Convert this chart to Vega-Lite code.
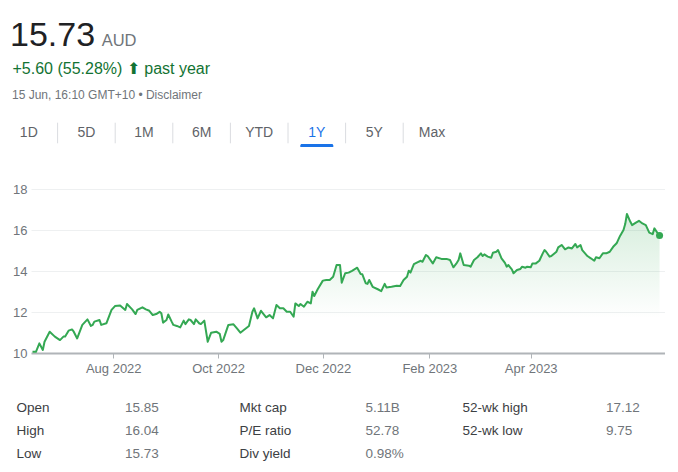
{
  "$schema": "https://vega.github.io/schema/vega-lite/v6.json",
  "background": "white",
  "padding": {"left": 10, "top": 0, "right": 0, "bottom": 0},
  "bounds": "flush",
  "spacing": 41,
  "config": {"view": {"stroke": null}, "font": "Liberation Sans"},
  "vconcat": [
    {
      "width": 634,
      "height": 77,
      "data": {"values": [
        {"part": "price", "text": "15.73"},
        {"part": "currency", "text": "AUD"},
        {"part": "change", "text": "+5.60 (55.28%) ⬆ past year"},
        {"part": "time", "text": "15 Jun, 16:10 GMT+10 • Disclaimer"}
      ]},
      "layer": [
        {"transform": [{"filter": "datum.part === 'price'"}],
         "mark": {"type": "text", "align": "left", "baseline": "alphabetic", "fontSize": 34, "color": "#202124"},
         "encoding": {"text": {"field": "text"}, "x": {"value": -21}, "y": {"value": 46}}},
        {"transform": [{"filter": "datum.part === 'currency'"}],
         "mark": {"type": "text", "align": "left", "baseline": "alphabetic", "fontSize": 16.5, "color": "#70757a"},
         "encoding": {"text": {"field": "text"}, "x": {"value": 70.7}, "y": {"value": 46}}},
        {"transform": [{"filter": "datum.part === 'change'"}],
         "mark": {"type": "text", "align": "left", "baseline": "alphabetic", "fontSize": 16, "color": "#137333"},
         "encoding": {"text": {"field": "text"}, "x": {"value": -18.5}, "y": {"value": 73.5}}},
        {"transform": [{"filter": "datum.part === 'time'"}],
         "mark": {"type": "text", "align": "left", "baseline": "alphabetic", "fontSize": 12, "color": "#70757a"},
         "encoding": {"text": {"field": "text"}, "x": {"value": -19}, "y": {"value": 99}}}
      ]
    },
    {
      "width": 634,
      "height": 30,
      "data": {"values": [
        {"tab": "1D", "active": false},
        {"tab": "5D", "active": false},
        {"tab": "1M", "active": false},
        {"tab": "6M", "active": false},
        {"tab": "YTD", "active": false},
        {"tab": "1Y", "active": true},
        {"tab": "5Y", "active": false},
        {"tab": "Max", "active": false}
      ]},
      "encoding": {
        "x": {"field": "tab", "type": "nominal", "sort": null,
              "scale": {"domain": ["1D", "5D", "1M", "6M", "YTD", "1Y", "5Y", "Max"], "range": [-31, 429.8], "paddingInner": 0, "paddingOuter": 0},
              "axis": null}
      },
      "layer": [
        {"mark": {"type": "text", "baseline": "middle", "fontSize": 14},
         "encoding": {"text": {"field": "tab"},
                      "color": {"condition": {"test": "datum.active", "value": "#1a73e8"}, "value": "#5f6368"}}},
        {"transform": [{"filter": "datum.tab !== '1D'"}],
         "mark": {"type": "rule", "color": "#dadce0", "strokeWidth": 1},
         "encoding": {"x": {"field": "tab", "type": "nominal", "bandPosition": 0}, "y": {"value": 4.7}, "y2": {"value": 25.3}}},
        {"transform": [{"filter": "datum.active"}],
         "mark": {"type": "bar", "width": {"band": 0.573}, "color": "#1a73e8", "cornerRadiusTopLeft": 2, "cornerRadiusTopRight": 2},
         "encoding": {"y": {"value": 26}, "y2": {"value": 29}}}
      ]
    },
    {
      "width": 634,
      "height": 164,
      "data": {"values": [
        {"date": "2022-06-15", "price": 10.06},
        {"date": "2022-06-17", "price": 10.06},
        {"date": "2022-06-19", "price": 10.47},
        {"date": "2022-06-21", "price": 10.15},
        {"date": "2022-06-22", "price": 10.55},
        {"date": "2022-06-25", "price": 11.04},
        {"date": "2022-06-28", "price": 10.80},
        {"date": "2022-07-01", "price": 10.63},
        {"date": "2022-07-03", "price": 10.80},
        {"date": "2022-07-04", "price": 10.80},
        {"date": "2022-07-06", "price": 11.09},
        {"date": "2022-07-08", "price": 11.15},
        {"date": "2022-07-09", "price": 11.04},
        {"date": "2022-07-11", "price": 10.71},
        {"date": "2022-07-14", "price": 11.37},
        {"date": "2022-07-17", "price": 11.64},
        {"date": "2022-07-19", "price": 11.32},
        {"date": "2022-07-20", "price": 11.37},
        {"date": "2022-07-21", "price": 11.53},
        {"date": "2022-07-24", "price": 11.61},
        {"date": "2022-07-25", "price": 11.37},
        {"date": "2022-07-28", "price": 11.45},
        {"date": "2022-07-31", "price": 12.10},
        {"date": "2022-08-02", "price": 12.29},
        {"date": "2022-08-05", "price": 12.32},
        {"date": "2022-08-08", "price": 12.10},
        {"date": "2022-08-09", "price": 12.39},
        {"date": "2022-08-12", "price": 12.13},
        {"date": "2022-08-14", "price": 11.90},
        {"date": "2022-08-15", "price": 12.10},
        {"date": "2022-08-18", "price": 12.23},
        {"date": "2022-08-20", "price": 12.13},
        {"date": "2022-08-22", "price": 12.06},
        {"date": "2022-08-24", "price": 11.85},
        {"date": "2022-08-26", "price": 11.90},
        {"date": "2022-08-28", "price": 12.01},
        {"date": "2022-08-29", "price": 11.94},
        {"date": "2022-08-30", "price": 11.48},
        {"date": "2022-09-01", "price": 11.61},
        {"date": "2022-09-02", "price": 11.88},
        {"date": "2022-09-04", "price": 11.53},
        {"date": "2022-09-05", "price": 11.37},
        {"date": "2022-09-07", "price": 11.32},
        {"date": "2022-09-09", "price": 11.25},
        {"date": "2022-09-11", "price": 11.58},
        {"date": "2022-09-12", "price": 11.41},
        {"date": "2022-09-14", "price": 11.64},
        {"date": "2022-09-15", "price": 11.61},
        {"date": "2022-09-17", "price": 11.41},
        {"date": "2022-09-18", "price": 11.64},
        {"date": "2022-09-20", "price": 11.45},
        {"date": "2022-09-21", "price": 11.41},
        {"date": "2022-09-23", "price": 11.58},
        {"date": "2022-09-25", "price": 10.55},
        {"date": "2022-09-27", "price": 10.99},
        {"date": "2022-09-30", "price": 11.04},
        {"date": "2022-10-02", "price": 10.93},
        {"date": "2022-10-03", "price": 10.55},
        {"date": "2022-10-04", "price": 10.63},
        {"date": "2022-10-07", "price": 11.37},
        {"date": "2022-10-10", "price": 11.40},
        {"date": "2022-10-12", "price": 11.20},
        {"date": "2022-10-14", "price": 10.99},
        {"date": "2022-10-16", "price": 11.12},
        {"date": "2022-10-19", "price": 11.32},
        {"date": "2022-10-21", "price": 12.01},
        {"date": "2022-10-22", "price": 12.18},
        {"date": "2022-10-24", "price": 11.69},
        {"date": "2022-10-26", "price": 12.06},
        {"date": "2022-10-29", "price": 11.74},
        {"date": "2022-10-31", "price": 11.85},
        {"date": "2022-11-02", "price": 11.69},
        {"date": "2022-11-04", "price": 12.34},
        {"date": "2022-11-06", "price": 12.18},
        {"date": "2022-11-08", "price": 12.18},
        {"date": "2022-11-10", "price": 12.01},
        {"date": "2022-11-12", "price": 12.01},
        {"date": "2022-11-14", "price": 11.77},
        {"date": "2022-11-15", "price": 12.42},
        {"date": "2022-11-17", "price": 12.29},
        {"date": "2022-11-18", "price": 12.39},
        {"date": "2022-11-20", "price": 12.26},
        {"date": "2022-11-22", "price": 12.50},
        {"date": "2022-11-24", "price": 12.42},
        {"date": "2022-11-25", "price": 12.99},
        {"date": "2022-11-26", "price": 12.78},
        {"date": "2022-11-28", "price": 13.11},
        {"date": "2022-12-01", "price": 13.53},
        {"date": "2022-12-03", "price": 13.56},
        {"date": "2022-12-05", "price": 13.56},
        {"date": "2022-12-07", "price": 13.72},
        {"date": "2022-12-09", "price": 14.29},
        {"date": "2022-12-11", "price": 14.29},
        {"date": "2022-12-12", "price": 13.43},
        {"date": "2022-12-14", "price": 13.89},
        {"date": "2022-12-16", "price": 13.92},
        {"date": "2022-12-18", "price": 14.01},
        {"date": "2022-12-21", "price": 14.16},
        {"date": "2022-12-23", "price": 13.85},
        {"date": "2022-12-24", "price": 13.84},
        {"date": "2022-12-26", "price": 13.40},
        {"date": "2022-12-27", "price": 13.37},
        {"date": "2022-12-28", "price": 13.56},
        {"date": "2022-12-30", "price": 13.23},
        {"date": "2023-01-02", "price": 13.11},
        {"date": "2023-01-04", "price": 13.02},
        {"date": "2023-01-06", "price": 13.37},
        {"date": "2023-01-07", "price": 13.20},
        {"date": "2023-01-10", "price": 13.23},
        {"date": "2023-01-13", "price": 13.28},
        {"date": "2023-01-15", "price": 13.27},
        {"date": "2023-01-17", "price": 13.56},
        {"date": "2023-01-19", "price": 13.72},
        {"date": "2023-01-20", "price": 14.01},
        {"date": "2023-01-21", "price": 13.92},
        {"date": "2023-01-23", "price": 14.33},
        {"date": "2023-01-25", "price": 14.42},
        {"date": "2023-01-27", "price": 14.50},
        {"date": "2023-01-28", "price": 14.45},
        {"date": "2023-01-30", "price": 14.78},
        {"date": "2023-01-31", "price": 14.73},
        {"date": "2023-02-03", "price": 14.37},
        {"date": "2023-02-05", "price": 14.67},
        {"date": "2023-02-08", "price": 14.59},
        {"date": "2023-02-11", "price": 14.59},
        {"date": "2023-02-13", "price": 14.54},
        {"date": "2023-02-15", "price": 14.18},
        {"date": "2023-02-17", "price": 14.40},
        {"date": "2023-02-18", "price": 14.54},
        {"date": "2023-02-19", "price": 14.86},
        {"date": "2023-02-21", "price": 14.29},
        {"date": "2023-02-24", "price": 14.26},
        {"date": "2023-02-25", "price": 14.21},
        {"date": "2023-02-27", "price": 14.54},
        {"date": "2023-03-01", "price": 14.67},
        {"date": "2023-03-03", "price": 14.86},
        {"date": "2023-03-04", "price": 14.73},
        {"date": "2023-03-05", "price": 14.81},
        {"date": "2023-03-07", "price": 14.70},
        {"date": "2023-03-09", "price": 14.65},
        {"date": "2023-03-10", "price": 14.89},
        {"date": "2023-03-12", "price": 14.94},
        {"date": "2023-03-13", "price": 15.02},
        {"date": "2023-03-15", "price": 14.62},
        {"date": "2023-03-17", "price": 14.40},
        {"date": "2023-03-18", "price": 14.21},
        {"date": "2023-03-19", "price": 14.29},
        {"date": "2023-03-21", "price": 14.08},
        {"date": "2023-03-22", "price": 13.89},
        {"date": "2023-03-24", "price": 14.05},
        {"date": "2023-03-26", "price": 14.10},
        {"date": "2023-03-27", "price": 14.21},
        {"date": "2023-03-29", "price": 14.16},
        {"date": "2023-03-30", "price": 14.21},
        {"date": "2023-04-01", "price": 14.18},
        {"date": "2023-04-02", "price": 14.37},
        {"date": "2023-04-04", "price": 14.37},
        {"date": "2023-04-06", "price": 14.50},
        {"date": "2023-04-08", "price": 14.86},
        {"date": "2023-04-09", "price": 15.02},
        {"date": "2023-04-10", "price": 14.94},
        {"date": "2023-04-12", "price": 14.70},
        {"date": "2023-04-13", "price": 14.73},
        {"date": "2023-04-16", "price": 14.94},
        {"date": "2023-04-17", "price": 15.15},
        {"date": "2023-04-19", "price": 15.27},
        {"date": "2023-04-21", "price": 15.06},
        {"date": "2023-04-23", "price": 15.15},
        {"date": "2023-04-25", "price": 15.10},
        {"date": "2023-04-27", "price": 15.32},
        {"date": "2023-04-28", "price": 15.15},
        {"date": "2023-04-30", "price": 15.27},
        {"date": "2023-05-01", "price": 15.02},
        {"date": "2023-05-04", "price": 14.73},
        {"date": "2023-05-06", "price": 14.62},
        {"date": "2023-05-08", "price": 14.50},
        {"date": "2023-05-09", "price": 14.67},
        {"date": "2023-05-11", "price": 14.62},
        {"date": "2023-05-13", "price": 14.86},
        {"date": "2023-05-15", "price": 14.86},
        {"date": "2023-05-17", "price": 14.94},
        {"date": "2023-05-19", "price": 15.18},
        {"date": "2023-05-21", "price": 15.35},
        {"date": "2023-05-23", "price": 15.71},
        {"date": "2023-05-25", "price": 16.00},
        {"date": "2023-05-26", "price": 16.29},
        {"date": "2023-05-27", "price": 16.78},
        {"date": "2023-05-29", "price": 16.40},
        {"date": "2023-05-30", "price": 16.24},
        {"date": "2023-06-01", "price": 16.35},
        {"date": "2023-06-03", "price": 16.45},
        {"date": "2023-06-05", "price": 16.32},
        {"date": "2023-06-07", "price": 16.24},
        {"date": "2023-06-09", "price": 15.87},
        {"date": "2023-06-11", "price": 15.80},
        {"date": "2023-06-12", "price": 16.08},
        {"date": "2023-06-14", "price": 15.83},
        {"date": "2023-06-15", "price": 15.73}
      ]},
      "encoding": {
        "x": {"field": "date", "type": "temporal",
              "scale": {"type": "utc", "domain": [{"year": 2022, "month": 6, "date": 14, "hours": 3, "utc": true}, {"year": 2023, "month": 6, "date": 18, "hours": 4, "utc": true}]},
              "axis": {"title": null, "grid": false, "format": "%b %Y",
                       "values": [{"year": 2022, "month": 8, "date": 1, "utc": true}, {"year": 2022, "month": 10, "date": 1, "utc": true}, {"year": 2022, "month": 12, "date": 1, "utc": true}, {"year": 2023, "month": 2, "date": 1, "utc": true}, {"year": 2023, "month": 4, "date": 1, "utc": true}],
                       "domainColor": "#b0b4b8", "domainWidth": 2, "tickColor": "#b0b4b8", "tickSize": 5, "tickWidth": 1,
                       "labelColor": "#70757a", "labelFontSize": 13, "labelPadding": 4, "labelFlush": false}},
        "y": {"field": "price", "type": "quantitative",
              "scale": {"domain": [10, 18], "nice": false, "zero": false},
              "axis": {"title": null, "values": [10, 12, 14, 16, 18], "grid": true, "gridColor": "#eef0f1", "gridWidth": 1,
                       "domain": false, "ticks": false, "tickSize": 0, "labelColor": "#70757a", "labelFontSize": 13, "labelPadding": 4}}
      },
      "layer": [
        {"mark": {"type": "area", "color": {"gradient": "linear", "x1": 0, "y1": 0, "x2": 0, "y2": 1,
                  "stops": [{"offset": 0, "color": "rgba(52,168,83,0.2)"}, {"offset": 0.75, "color": "rgba(52,168,83,0)"}]}},
         "encoding": {"y2": {"datum": 10}}},
        {"mark": {"type": "line", "color": "#34a853", "strokeWidth": 2, "strokeJoin": "round"}},
        {"transform": [{"filter": "time(datum.date) === utc(2023, 5, 15)"}],
         "mark": {"type": "circle", "size": 50, "color": "#34a853", "opacity": 1}}
      ]
    },
    {
      "width": 634,
      "height": 74,
      "data": {"values": [
        {"label": "Open", "value": "15.85", "col": 1, "row": 1},
        {"label": "High", "value": "16.04", "col": 1, "row": 2},
        {"label": "Low", "value": "15.73", "col": 1, "row": 3},
        {"label": "Mkt cap", "value": "5.11B", "col": 2, "row": 1},
        {"label": "P/E ratio", "value": "52.78", "col": 2, "row": 2},
        {"label": "Div yield", "value": "0.98%", "col": 2, "row": 3},
        {"label": "52-wk high", "value": "17.12", "col": 3, "row": 1},
        {"label": "52-wk low", "value": "9.75", "col": 3, "row": 2}
      ]},
      "layer": [
        {"mark": {"type": "text", "align": "left", "baseline": "middle", "fontSize": 13.5, "color": "#3c4043"},
         "encoding": {"text": {"field": "label"},
                      "x": {"field": "col", "type": "ordinal", "scale": {"type": "point", "range": [-14.5, 431.5], "padding": 0}, "axis": null},
                      "y": {"field": "row", "type": "ordinal", "scale": {"type": "point", "padding": 0.58}, "axis": null}}},
        {"mark": {"type": "text", "align": "left", "baseline": "middle", "fontSize": 13.5, "color": "#70757a"},
         "encoding": {"text": {"field": "value"},
                      "x": {"field": "col", "type": "ordinal", "scale": {"type": "point", "range": [94, 575], "padding": 0}, "axis": null},
                      "y": {"field": "row", "type": "ordinal", "scale": {"type": "point", "padding": 0.58}, "axis": null}}}
      ],
      "resolve": {"scale": {"x": "independent"}}
    }
  ]
}
